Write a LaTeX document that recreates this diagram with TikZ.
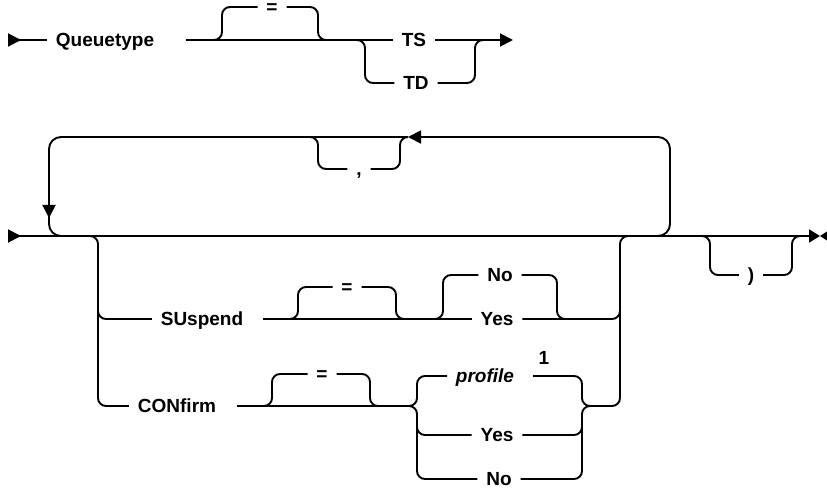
\documentclass[tikz,border=0pt]{standalone}
\usepackage{fontspec}
\setmainfont{Liberation Sans}
\usetikzlibrary{arrows.meta}
\tikzset{
  txt/.style={inner xsep=8pt, inner ysep=0pt, text height=13.6pt, text depth=0pt,
              font=\fontsize{19}{22}\selectfont\bfseries},
  rnd/.style={rounded corners=8pt},
  tipend/.style={-{Triangle[length=13pt,width=13pt]}},
  tipstart/.style={{Triangle[reversed,length=13pt,width=13pt]}-},
  tipboth/.style={{Triangle[reversed,length=13pt,width=13pt]}-{Triangle[length=11pt,width=13pt]}},
}
\begin{document}
\begin{tikzpicture}[x=1pt,y=-1pt,line width=1.9pt]
\useasboundingbox (0,0) rectangle (827,489);

% ---------- Row 1 ----------
\coordinate (s1) at (8,40);
\node[txt] (queue) at (105,40) {Queuetype};
\coordinate (q1) at (186,40);
\node[txt] (eq1) at (272,7) {=};
\node[txt] (TS) at (414,40) {TS};
\node[txt] (TD) at (416,83) {TD};
\coordinate (e1) at (513,40);

\draw[tipstart] (s1) -- (queue.west);
\draw (q1) -- (TS.west);
\draw[rnd] (212,40) -- (222,40) |- (eq1.west);
\draw[rnd] (eq1.east) -| (318,40) -- (328,40);
\draw[rnd] (355,40) -- (365,40) |- (TD.west);
\draw[rnd] (TD.east) -| (475,40) -- (485,40);
\draw[tipend] (TS.east) -- (e1);

% ---------- Row 2 ----------
\coordinate (s2) at (8,236);
\coordinate (e2) at (820,236);
\draw[tipboth] (s2) -- (e2);
\fill (e2) -- (830,229.5) -- (830,242.5) -- cycle;

% repeat loop
\coordinate (loopR) at (650,236);
\coordinate (loopArr) at (408,137);
\coordinate (loopDown) at (49,218);
\draw[rnd,rounded corners=12pt,tipend] (loopR) -- (670,236) -- (670,137) -- (loopArr);
\draw[rnd,rounded corners=12pt,tipend] (loopArr) -- (49,137) -- (loopDown);
\draw[rnd,rounded corners=12pt] (49,205) -- (49,236) -- (72,236);

% comma separator
\node[txt] (comma) at (359,169) {,};
\draw[rnd] (406,137) -- (400,137) |- (comma.east);
\draw[rnd] (comma.west) -| (318,137) -- (308,137);

% branches to SUspend / CONfirm
\node[txt] (SU) at (202,319) {SUspend};
\node[txt] (CON) at (177,406) {CONfirm};
\draw[rnd] (85,236) -- (98,236) |- (CON.west);
\draw[rnd] (98,300) |- (SU.west);

% SUspend options
\coordinate (su1) at (263,319);
\node[txt] (eq2) at (347,287) {=};
\node[txt] (No1) at (500,275) {No};
\node[txt] (Yes1) at (497,319) {Yes};
\draw (su1) -- (Yes1.west);
\draw[rnd] (288,319) -- (298,319) |- (eq2.west);
\draw[rnd] (eq2.east) -| (396,319) -- (406,319);
\draw[rnd] (433,319) -- (443,319) |- (No1.west);
\draw[rnd] (No1.east) -| (557,319) -- (567,319);
\draw[rnd] (Yes1.east) -| (620,300);

% CONfirm options
\coordinate (con1) at (237,406);
\node[txt] (eq3) at (322,374) {=};
\node[txt] (prof) at (485,376) {\itshape profile};
\coordinate (profR) at (533,376);
\node[txt] (one) at (544,358) {1};
\node[txt] (Yes2) at (497,435) {Yes};
\node[txt] (No2) at (499,479) {No};
\draw[rnd] (con1) -- (417,406) |- (prof.west);
\draw[rnd] (262,406) -- (272,406) |- (eq3.west);
\draw[rnd] (eq3.east) -| (370,406) -- (380,406);
\draw[rnd] (405,406) -- (417,406) |- (No2.west);
\draw[rnd] (417,420) |- (Yes2.west);
\draw[rnd] (profR) -| (582,406) -- (595,406);
\draw[rnd] (No2.east) -| (582,406) -- (595,406);
\draw[rnd] (Yes2.east) -| (582,420);

% collector back to main line
\draw[rnd] (590,406) -- (620,406) -- (620,236) -- (636,236);

% closing parenthesis option
\node[txt] (paren) at (751,275) {)};
\draw[rnd] (700,236) -- (710,236) |- (paren.west);
\draw[rnd] (paren.east) -| (792,236) -- (802,236);
\end{tikzpicture}
\end{document}
